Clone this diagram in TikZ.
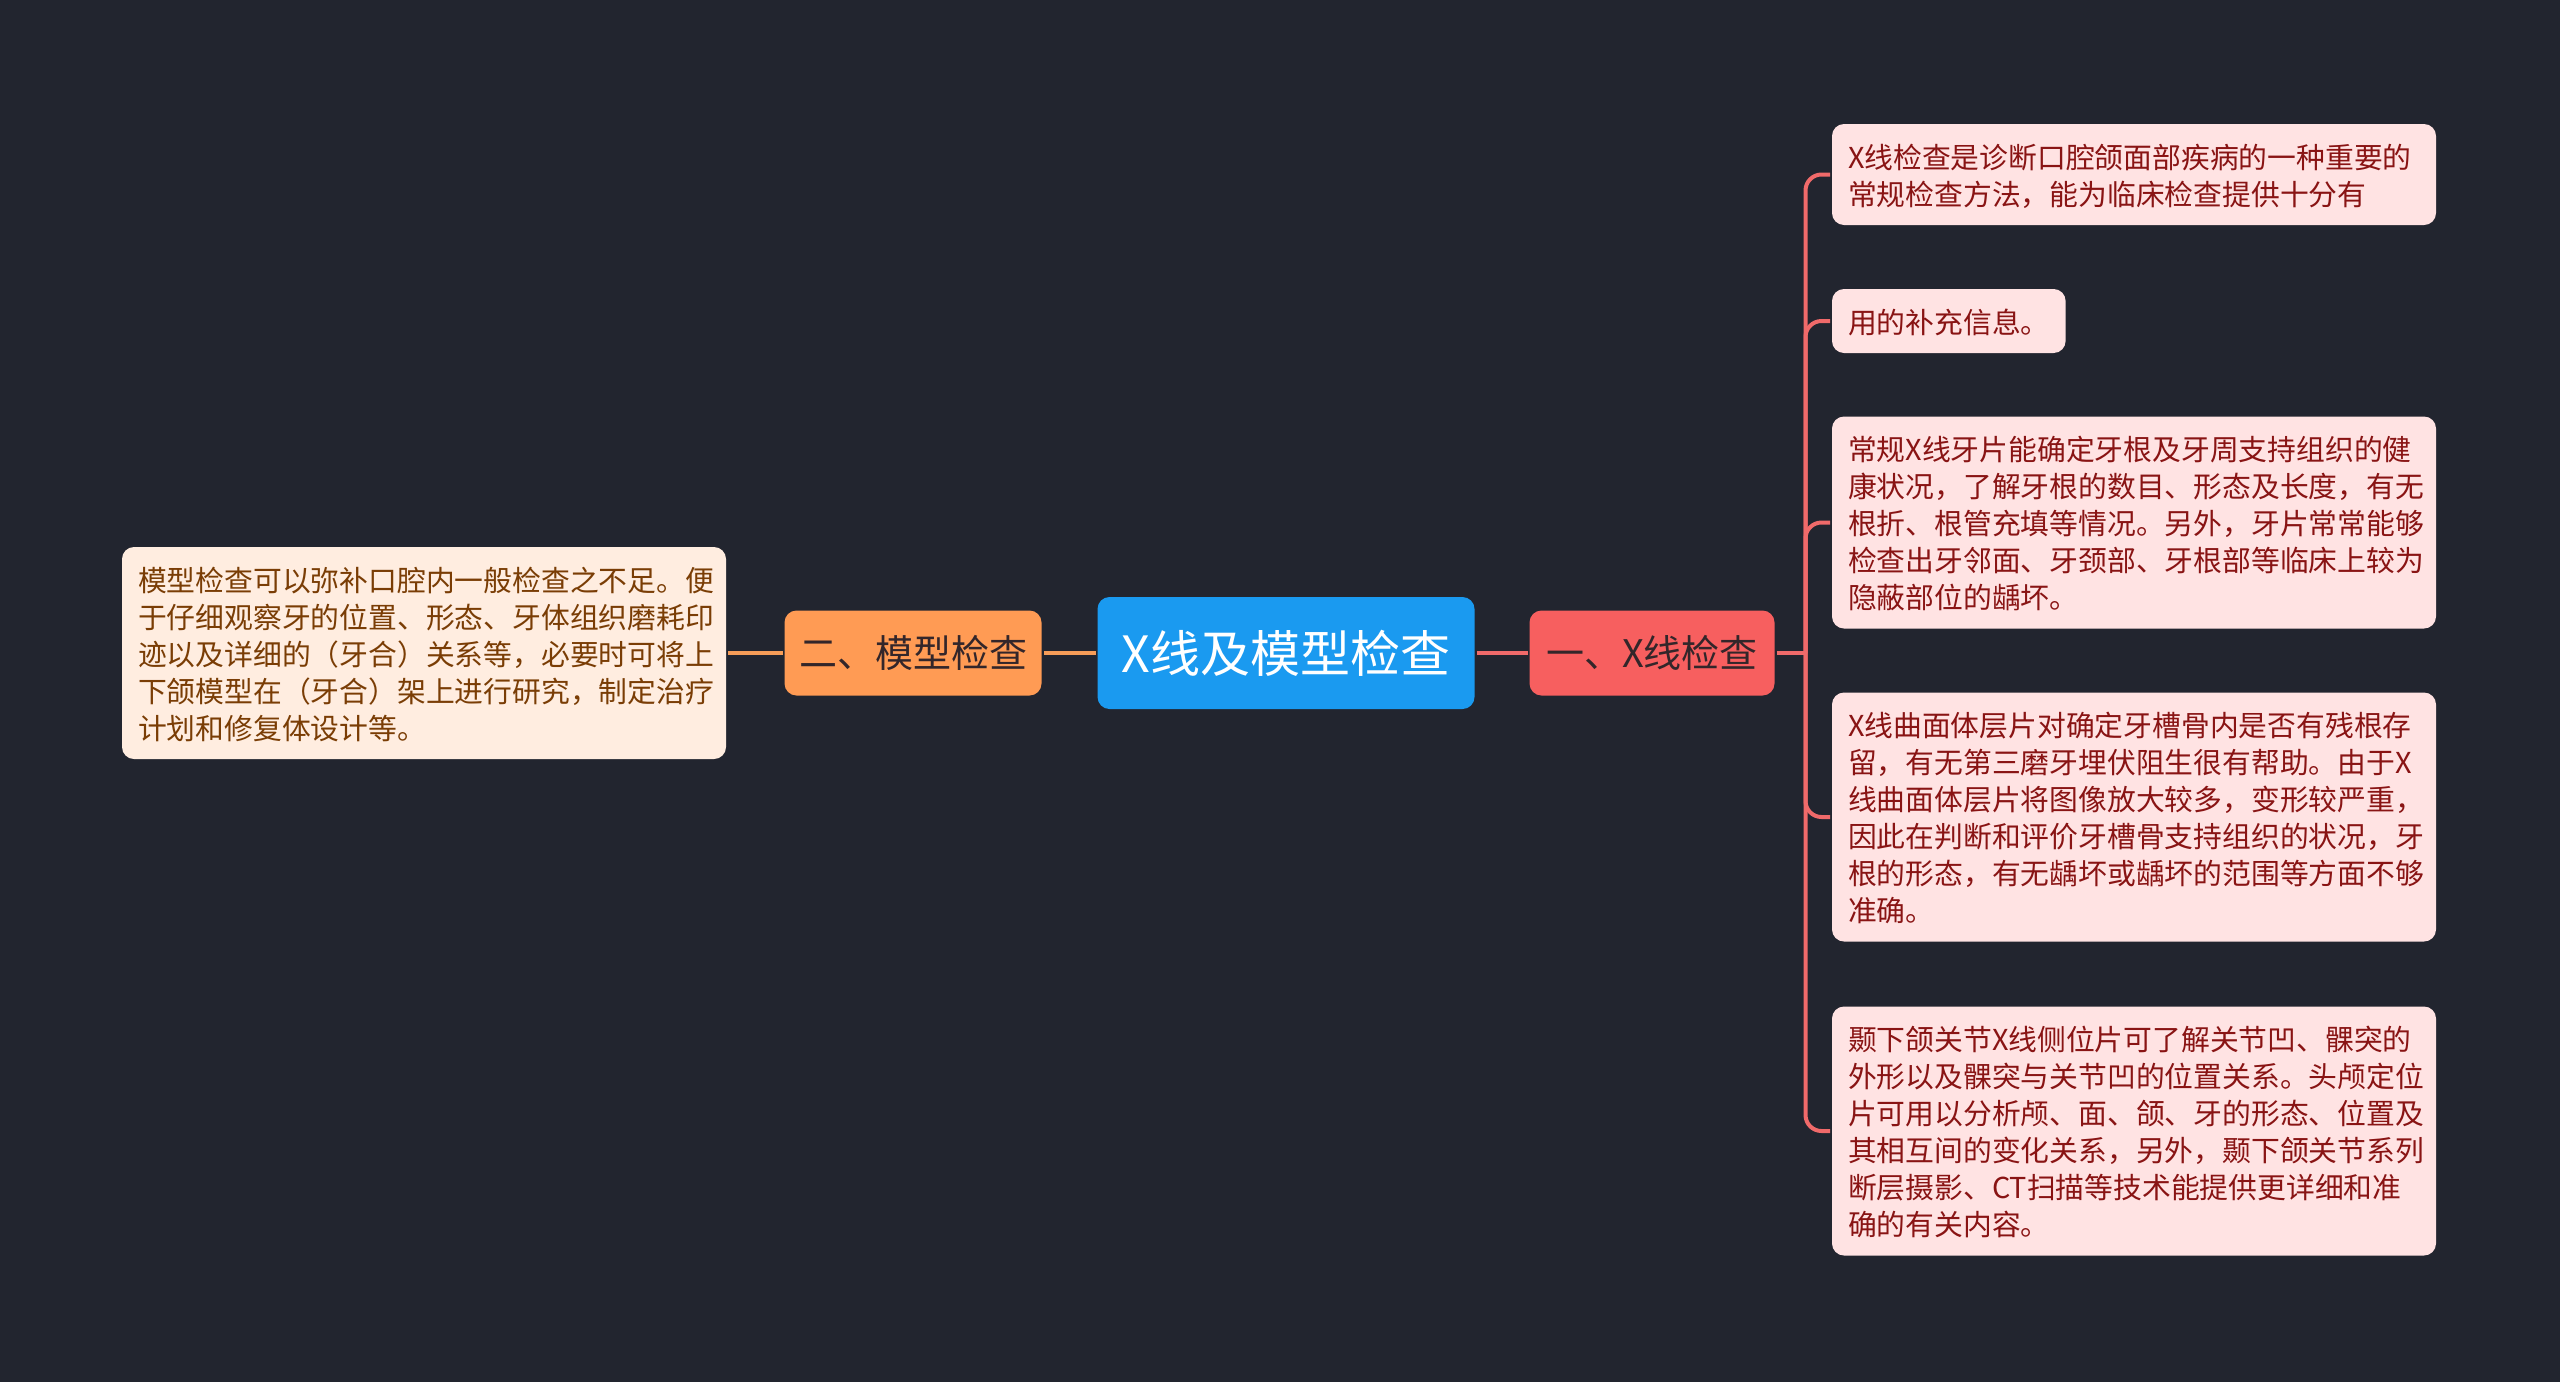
\documentclass[tikz,border=0pt]{standalone}
\usepackage{fontspec}
\newfontfamily\cjk{Noto Sans CJK SC}
\usetikzlibrary{positioning}
\definecolor{bgdark}{HTML}{22252F}
\definecolor{rootblue}{HTML}{1A9AF0}
\definecolor{xred}{HTML}{F75F5F}
\definecolor{xline}{HTML}{F06A6A}
\definecolor{xfill}{HTML}{FFE3E3}
\definecolor{xtext}{HTML}{891414}
\definecolor{morange}{HTML}{FF9B54}
\definecolor{mline}{HTML}{F79D58}
\definecolor{mfill}{HTML}{FFEDE0}
\definecolor{mtext}{HTML}{7A3D05}
\definecolor{btext}{HTML}{33262A}
\newcommand{\leafstrut}{\rule[-3.05pt]{0pt}{18.5pt}}

\begin{document}
\begin{tikzpicture}[
      x = 0.5pt,
      y = -0.5pt,
      line width = 2pt,
      every node/.style = {font=\cjk},
      root/.style = {
        fill = rootblue,
        text = white,
        rounded corners = 6pt,
        minimum width = 188.5pt,
        minimum height = 56pt,
        inner sep = 0pt,
        font = \cjk\fontsize{25}{30}\selectfont},
      branch/.style = {
        text = btext,
        rounded corners = 6pt,
        minimum height = 42.5pt,
        inner sep = 0pt,
        font = \cjk\fontsize{19}{23}\selectfont},
      leaf/.style = {
        rounded corners = 6pt,
        align = left,
        inner xsep = 8pt,
        inner ysep = 6.75pt,
        font = \cjk\fontsize{14.4}{18.5}\selectfont,
        execute at begin node = \leafstrut,
        execute at end node = \leafstrut},
      xleaf/.style = {leaf, fill = xfill, text = xtext, anchor = west},
      mleaf/.style = {leaf, fill = mfill, text = mtext, anchor = east}]

      \fill[bgdark] (0,0) rectangle (2560,1382);
      \useasboundingbox (0,0) rectangle (2560,1382);

      % centre and the two branches
      \node[root] (root) at (1286,653) {X线及模型检查};
      \node[branch, fill=xred, minimum width=122.5pt] (bx) at (1652,653) {一、X线检查};
      \node[branch, fill=morange, minimum width=128.5pt] (bm) at (913,653) {二、模型检查};

      % X-ray leaves
      \node[xleaf, text width=286pt] (x1) at (1830,174.5)
        {X线检查是诊断口腔颌面部疾病的一种重要的\\常规检查方法，能为临床检查提供十分有};
      \node[xleaf] (x2) at (1830,321) {用的补充信息。};
      \node[xleaf, text width=286pt] (x3) at (1830,522.5)
        {常规X线牙片能确定牙根及牙周支持组织的健\\康状况，了解牙根的数目、形态及长度，有无\\根折、根管充填等情况。另外，牙片常常能够\\检查出牙邻面、牙颈部、牙根部等临床上较为\\隐蔽部位的龋坏。};
      \node[xleaf, text width=286pt] (x4) at (1830,817)
        {X线曲面体层片对确定牙槽骨内是否有残根存\\留，有无第三磨牙埋伏阻生很有帮助。由于X\\线曲面体层片将图像放大较多，变形较严重，\\因此在判断和评价牙槽骨支持组织的状况，牙\\根的形态，有无龋坏或龋坏的范围等方面不够\\准确。};
      \node[xleaf, text width=286pt] (x5) at (1830,1131)
        {颞下颌关节X线侧位片可了解关节凹、髁突的\\外形以及髁突与关节凹的位置关系。头颅定位\\片可用以分析颅、面、颌、牙的形态、位置及\\其相互间的变化关系，另外，颞下颌关节系列\\断层摄影、CT扫描等技术能提供更详细和准\\确的有关内容。};

      % model leaf
      \node[mleaf, text width=286pt] (m1) at (728,653)
        {模型检查可以弥补口腔内一般检查之不足。便\\于仔细观察牙的位置、形态、牙体组织磨耗印\\迹以及详细的（牙合）关系等，必要时可将上\\下颌模型在（牙合）架上进行研究，制定治疗\\计划和修复体设计等。};

      % connectors
      \draw[xline] (root.east) -- (bx.west);
      \coordinate[right=14.5pt of bx.east] (bxj);
      \draw[xline] (bx.east) -- (bxj);
      \foreach \n in {1,...,5}
        \draw[xline, rounded corners=8pt] (bxj) |- (x\n.west);
      \draw[mline] (root.west) -- (bm.east);
      \draw[mline] (bm.west) -- (m1.east);
\end{tikzpicture}
\end{document}
